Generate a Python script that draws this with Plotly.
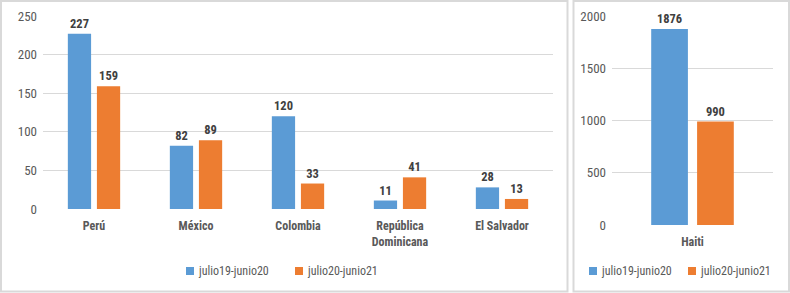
import plotly.graph_objects as go

W, H = 790, 293

categories = ["Perú", "México", "Colombia", "República<br>Dominicana", "El Salvador"]
serie_2019_20 = [227, 82, 120, 11, 28]
serie_2020_21 = [159, 89, 33, 41, 13]

cat_haiti = ["Haiti"]
haiti_2019_20 = [1876]
haiti_2020_21 = [990]

series_names = ["julio19-junio20", "julio20-junio21"]
colors = ["#5B9BD5", "#ED7D31"]

FONT = "Liberation Sans Narrow, Arial Narrow, Roboto Condensed, Liberation Sans, sans-serif"
GRAY = "#595959"
DARK = "#404040"

def px_x(x):
    return x / W

def px_y(y):
    return 1 - y / H

fig = go.Figure()

for name, vals, col in zip(series_names, [serie_2019_20, serie_2020_21], colors):
    fig.add_trace(go.Bar(
        x=categories, y=vals, name=name, marker=dict(color=col, line=dict(width=0)),
        text=vals, textposition="outside", cliponaxis=False,
        textfont=dict(family=FONT, size=12.5, color=DARK, weight="bold"),
        xaxis="x", yaxis="y", showlegend=False, hoverinfo="skip",
    ))

for name, vals, col in zip(series_names, [haiti_2019_20, haiti_2020_21], colors):
    fig.add_trace(go.Bar(
        x=cat_haiti, y=vals, name=name, marker=dict(color=col, line=dict(width=0)),
        text=vals, textposition="outside", cliponaxis=False,
        textfont=dict(family=FONT, size=12.5, color=DARK, weight="bold"),
        xaxis="x2", yaxis="y2", showlegend=False, hoverinfo="skip",
    ))

axis_common = dict(showline=False, zeroline=False, ticks="", fixedrange=True, automargin=False)

# Manual legends (square + label) for each panel
legend_positions = [[186, 295], [589, 688]]
shapes = [
    dict(type="rect", xref="paper", yref="paper",
         x0=px_x(1), x1=px_x(567.5), y0=px_y(291.5), y1=px_y(1),
         line=dict(color="#D9D9D9", width=2), fillcolor="rgba(0,0,0,0)", layer="below"),
    dict(type="rect", xref="paper", yref="paper",
         x0=px_x(573.5), x1=px_x(789), y0=px_y(291.5), y1=px_y(1),
         line=dict(color="#D9D9D9", width=2), fillcolor="rgba(0,0,0,0)", layer="below"),
]
annotations = []
LY = 271
for xs in legend_positions:
    for xs0, name, col in zip(xs, series_names, colors):
        shapes.append(dict(type="rect", xref="paper", yref="paper",
                           x0=px_x(xs0), x1=px_x(xs0 + 8), y0=px_y(LY + 4), y1=px_y(LY - 4),
                           line=dict(width=0), fillcolor=col))
        annotations.append(dict(xref="paper", yref="paper", x=px_x(xs0 + 10), y=px_y(LY),
                                xanchor="left", yanchor="middle", showarrow=False, text=name,
                                font=dict(family=FONT, size=12, color=GRAY)))

fig.update_layout(
    width=W, height=H,
    margin=dict(l=0, r=0, t=0, b=0, autoexpand=False),
    paper_bgcolor="white", plot_bgcolor="white",
    font=dict(family=FONT, size=13, color=GRAY),
    barmode="group", bargap=0.43, bargroupgap=0.2,
    showlegend=False,
    xaxis=dict(domain=[px_x(43), px_x(553)], anchor="y",
               tickfont=dict(family=FONT, size=12, color=GRAY, weight="bold"),
               ticklabelstandoff=8, showgrid=False, **axis_common),
    yaxis=dict(domain=[px_y(209), px_y(16)], range=[0, 250], dtick=50, anchor="x",
               showgrid=True, gridcolor="#D9D9D9", gridwidth=1,
               tickfont=dict(family=FONT, size=13, color=GRAY), ticklabelstandoff=5,
               **axis_common),
    xaxis2=dict(domain=[px_x(612), px_x(773)], anchor="y2",
                tickfont=dict(family=FONT, size=12, color=GRAY, weight="bold"),
                ticklabelstandoff=8, showgrid=False, **axis_common),
    yaxis2=dict(domain=[px_y(225), px_y(16)], range=[0, 2000], dtick=500, anchor="x2",
                showgrid=True, gridcolor="#D9D9D9", gridwidth=1,
                tickfont=dict(family=FONT, size=13, color=GRAY), ticklabelstandoff=5,
                **axis_common),
    shapes=shapes,
    annotations=annotations,
)

fig.write_html("out.html", config={"displayModeBar": False, "staticPlot": True},
               post_script="document.body.style.margin='0';document.body.style.overflow='hidden';")
